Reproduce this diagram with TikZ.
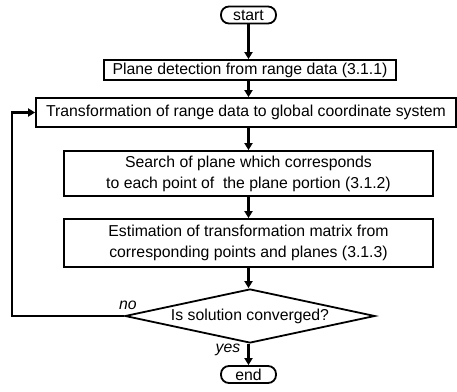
\documentclass[tikz,border=0pt]{standalone}
\usepackage{fontspec}
\setmainfont{Liberation Sans}
\usetikzlibrary{shapes.geometric,arrows.meta}

\begin{document}
\begin{tikzpicture}[x=0.5pt,y=-0.5pt,
    box/.style={draw, line width=0.9pt, inner sep=0pt, align=center, font=\fontsize{7.9}{10.5}\selectfont},
    term/.style={box, rounded corners=4pt, minimum width=27.5pt, minimum height=8.5pt},
    arr/.style={-{Triangle[length=3.5pt,width=4pt]}, line width=1.3pt}]
    \useasboundingbox (0,0) rectangle (457,392);
    % Terminals
    \node[term] (start) at (248.5,15) {start};
    \node[term] (end) at (248.5,374.5) {end};
    % Process boxes
    \node[box, minimum width=146pt, minimum height=10pt] (detect) at (250,70) {Plane detection from range data (3.1.1)};
    \node[box, minimum width=210pt, minimum height=14.5pt] (trans) at (246,112.5) {Transformation of range data to global coordinate system};
    \node[box, minimum width=184.5pt, minimum height=22.5pt] (search) at (248.5,173.5) {Search of plane which corresponds\\to each point of~ the plane portion (3.1.2)};
    \node[box, minimum width=184.5pt, minimum height=24pt] (estim) at (248.5,243) {Estimation of transformation matrix from\\corresponding points and planes (3.1.3)};
    % Decision
    \node[box, diamond, aspect=4.6, minimum width=125pt, minimum height=27pt] (conv) at (250,316) {Is solution converged?};
    \node[font=\fontsize{7.9}{9}\selectfont\itshape] (no) at (128,305) {no};
    \node[font=\fontsize{7.9}{9}\selectfont\itshape] (yes) at (228,350) {yes};
    % Arrows
    \foreach \a/\b in {start/detect, detect/trans, trans/search, search/estim, estim/conv, conv/end} {
        \draw[arr] (start |- \a.south) -- (start |- \b.north);
    }
    \coordinate (loop) at (12,316);
    \draw[arr] (conv.west) -- (loop) |- (trans.west);
\end{tikzpicture}
\end{document}
